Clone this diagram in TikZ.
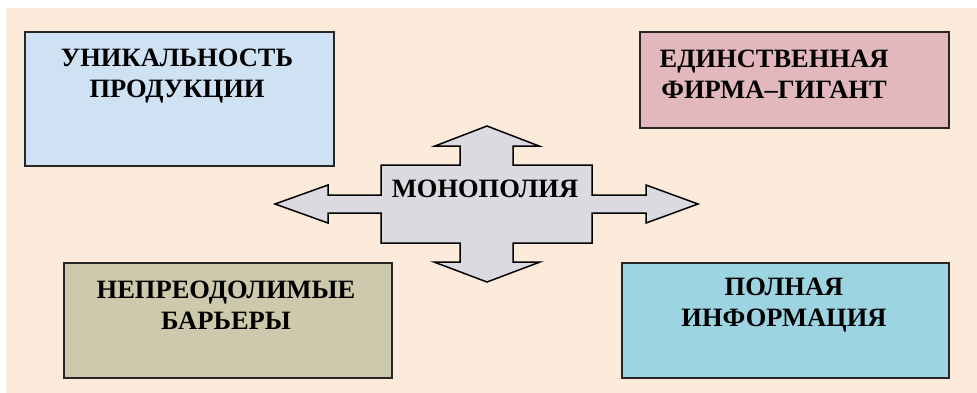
\documentclass[tikz,border=0pt]{standalone}
\usepackage{fontspec}
\setmainfont{Liberation Serif}
\begin{document}
\begin{tikzpicture}[x=1pt,y=-1pt,
  box/.style={draw=black!85,line width=1.8pt,inner sep=0pt,anchor=north west},
  lbl/.style={font=\fontsize{26.5}{30.5}\selectfont\bfseries,align=center,inner sep=0pt,text=black},
  bg/.style={fill=bgcol,draw=none}]
\definecolor{bgcol}{RGB}{252,234,218}
\definecolor{bluebox}{RGB}{207,226,244}
\definecolor{pinkbox}{RGB}{226,184,188}
\definecolor{tanbox}{RGB}{206,201,172}
\definecolor{cyanbox}{RGB}{156,212,226}
\definecolor{arrowgray}{RGB}{218,218,224}
\useasboundingbox (0,0) rectangle (977,392);
\path[bg] (6,8) rectangle (985,400);
% boxes
\node[box,fill=bluebox,minimum width=309pt,minimum height=134pt] (b1) at (24,31) {};
\node[box,fill=pinkbox,minimum width=309pt,minimum height=96pt] (b2) at (639,31) {};
\node[box,fill=tanbox,minimum width=328pt,minimum height=115pt] (b3) at (63,262) {};
\node[box,fill=cyanbox,minimum width=327pt,minimum height=115pt] (b4) at (621,262) {};
\node[lbl] (t1) at (177,76) {УНИКАЛЬНОСТЬ\\ПРОДУКЦИИ};
\node[lbl] (t2) at (774,74) {ЕДИНСТВЕННАЯ\\ФИРМА–ГИГАНТ};
\node[lbl] (t3) at (226,305) {НЕПРЕОДОЛИМЫЕ\\БАРЬЕРЫ};
\node[lbl] (t4) at (784,305) {ПОЛНАЯ\\ИНФОРМАЦИЯ};
% quad arrow
\draw[fill=arrowgray,line width=1.5pt,line join=miter]
  (381,165) -- (460,165) -- (460,146) -- (435,146) -- (487,126) -- (539,146) -- (513,146) -- (513,165)
  -- (592,165) -- (592,195) -- (646,195) -- (646,185) -- (698,204) -- (646,223) -- (646,213) -- (592,213)
  -- (592,243) -- (513,243) -- (513,262) -- (540,262) -- (487,282) -- (434,262) -- (460,262) -- (460,243)
  -- (381,243) -- (381,213) -- (328,213) -- (328,223) -- (275,204) -- (328,185) -- (328,195) -- (381,195) -- cycle;
\node[lbl] (mono) at (485,189) {МОНОПОЛИЯ};
\end{tikzpicture}
\end{document}
